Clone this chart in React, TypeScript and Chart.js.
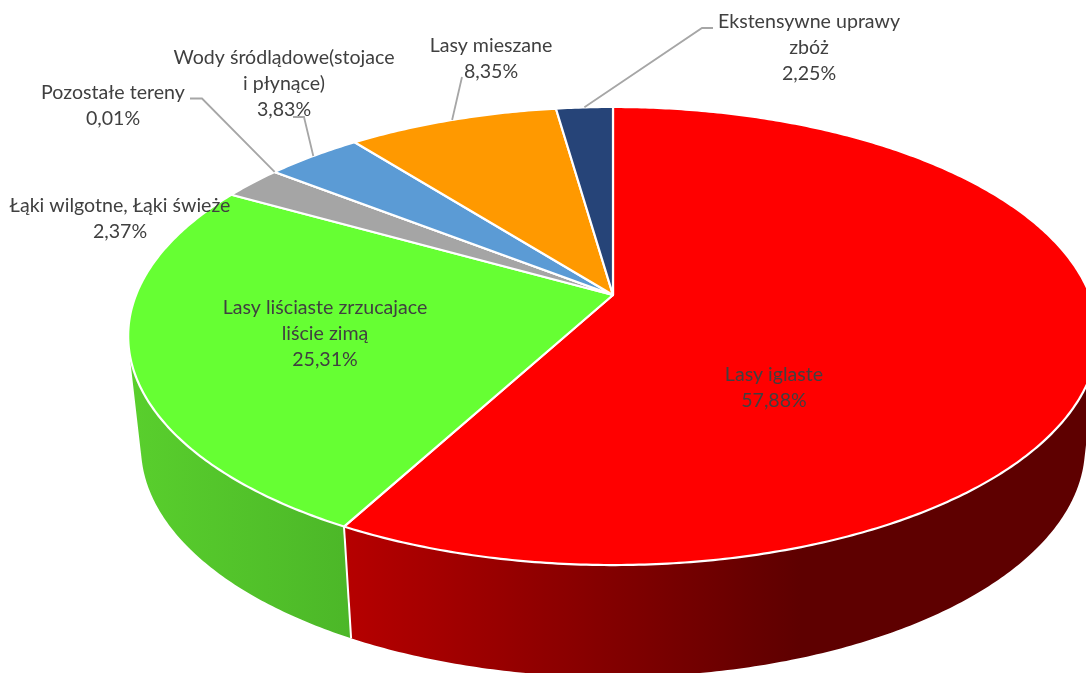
import React, { useEffect, useRef } from "react";
import { Chart, registerables } from "chart.js";

Chart.register(...registerables);

const categories = [
  "Lasy iglaste",
  "Lasy liściaste zrzucajace liście zimą",
  "Łąki wilgotne, Łąki świeże",
  "Pozostałe tereny",
  "Wody śródlądowe(stojace i płynące)",
  "Lasy mieszane",
  "Ekstensywne uprawy zbóż",
];
const shares = [57.88, 25.31, 2.37, 0.01, 3.83, 8.35, 2.25];
const topColors = ["#ff0000", "#66ff33", "#a5a5a5", "#ffc000", "#5b9bd5", "#ff9900", "#264478"];
const labelLines = [
  ["Lasy iglaste"],
  ["Lasy liściaste zrzucajace", "liście zimą"],
  ["Łąki wilgotne, Łąki świeże"],
  ["Pozostałe tereny"],
  ["Wody śródlądowe(stojace", "i płynące)"],
  ["Lasy mieszane"],
  ["Ekstensywne uprawy", "zbóż"],
];

// label layout: centre x, first-line centre y, elbow points of the leader line (if any)
const labelLayout: { x: number; y: number; leader?: [number, number][] }[] = [
  { x: 774, y: 375 },
  { x: 325, y: 308 },
  { x: 120, y: 206 },
  { x: 113, y: 93, leader: [[190, 98.5], [202, 98.5]] },
  { x: 284, y: 58, leader: [[293, 117], [304, 117]] },
  { x: 491, y: 46, leader: [[462, 77]] },
  { x: 809, y: 22, leader: [[713, 28], [702, 28]] },
];

// perspective model of the tilted disc
const K = 0.179;
const TOP = { cx: 613, cy: 295, rx: 477, ry: 221.7 };
const BOTTOM = { cx: 613, cy: 405.8, rx: 464.4, ry: 222.6 };
type Disc = typeof TOP;

const project = (d: Disc, t: number): [number, number] => {
  const u = Math.sin(t);
  const v = -Math.cos(t);
  const w = 1 - K * v;
  return [d.cx + (d.rx * u) / w, d.cy + (d.ry * v) / w];
};

const wallGradients: Record<number, [number, string, number, string]> = {
  0: [344, "#b60000", 800, "#5e0000"],
  1: [130, "#59cf2d", 350, "#4cb728"],
};

const App = () => {
  const ref = useRef<HTMLCanvasElement>(null);
  useEffect(() => {
    document.body.style.margin = "0";
    const plugin = {
      id: "tiltedPie",
      beforeDatasetDraw() {
        return false;
      },
      beforeDatasetsDraw(chart: any) {
        const ctx: CanvasRenderingContext2D = chart.ctx;
        const arcs = chart.getDatasetMeta(0).data;
        const thetas = arcs.map((a: any) => [a.startAngle + Math.PI / 2, a.endAngle + Math.PI / 2]);
        ctx.save();

        // side walls
        const wallMin = (60 * Math.PI) / 180;
        const wallMax = (300 * Math.PI) / 180;
        arcs.forEach((_: any, i: number) => {
          const g = wallGradients[i];
          if (!g) return;
          const a = Math.max(thetas[i][0], wallMin);
          const b = Math.min(thetas[i][1], wallMax);
          const grad = ctx.createLinearGradient(g[0], 0, g[2], 0);
          grad.addColorStop(0, g[1]);
          grad.addColorStop(1, g[3]);
          ctx.fillStyle = grad;
          ctx.beginPath();
          const n = Math.ceil((b - a) / 0.01);
          for (let s = 0; s < n; s++) {
            const t1 = a + ((b - a) * s) / n;
            const t2 = a + ((b - a) * (s + 1)) / n;
            const q = [project(TOP, t1), project(TOP, t2), project(BOTTOM, t2), project(BOTTOM, t1)];
            let area = 0;
            q.forEach((p, j) => {
              const r = q[(j + 1) % 4];
              area += p[0] * r[1] - r[0] * p[1];
            });
            if (area < 0) q.reverse();
            ctx.moveTo(q[0][0], q[0][1]);
            q.slice(1).forEach((p) => ctx.lineTo(p[0], p[1]));
            ctx.closePath();
          }
          ctx.fill();
        });

        // seam between the two visible walls
        const seam = thetas[0][1];
        const s1 = project(TOP, seam);
        const s2 = project(BOTTOM, seam);
        ctx.strokeStyle = "#ffffff";
        ctx.lineWidth = 2;
        ctx.beginPath();
        ctx.moveTo(s1[0], s1[1]);
        ctx.lineTo(s2[0], s2[1]);
        ctx.stroke();

        // top faces
        arcs.forEach((arc: any, i: number) => {
          const [a, b] = thetas[i];
          ctx.beginPath();
          ctx.moveTo(TOP.cx, TOP.cy);
          const n = Math.max(1, Math.ceil((b - a) / 0.01));
          for (let s = 0; s <= n; s++) {
            const p = project(TOP, a + ((b - a) * s) / n);
            ctx.lineTo(p[0], p[1]);
          }
          ctx.closePath();
          ctx.fillStyle = arc.options.backgroundColor;
          ctx.fill();
          ctx.strokeStyle = "#ffffff";
          ctx.lineWidth = 2.2;
          ctx.lineJoin = "round";
          ctx.stroke();
        });
        ctx.restore();
      },
      afterDraw(chart: any) {
        const ctx: CanvasRenderingContext2D = chart.ctx;
        const arcs = chart.getDatasetMeta(0).data;
        ctx.save();
        // leaders
        ctx.strokeStyle = "#a6a6a6";
        ctx.lineWidth = 1.8;
        labelLayout.forEach((l, i) => {
          if (!l.leader) return;
          const mid = (arcs[i].startAngle + arcs[i].endAngle) / 2 + Math.PI / 2;
          const end = project(TOP, mid);
          ctx.beginPath();
          l.leader.forEach((p, j) => (j ? ctx.lineTo(p[0], p[1]) : ctx.moveTo(p[0], p[1])));
          ctx.lineTo(end[0], end[1]);
          ctx.stroke();
        });
        // labels
        ctx.fillStyle = "#404040";
        ctx.font = '19.6px Lato, "Open Sans", sans-serif';
        ctx.textAlign = "center";
        ctx.textBaseline = "middle";
        labelLayout.forEach((l, i) => {
          const lines = [...labelLines[i], shares[i].toFixed(2).replace(".", ",") + "%"];
          lines.forEach((t, j) => ctx.fillText(t, l.x, l.y + j * 25.7));
        });
        ctx.restore();
      },
    };
    const chart = new Chart(ref.current!, {
      type: "pie",
      data: {
        labels: categories,
        datasets: [{ data: shares, backgroundColor: topColors, borderColor: "#ffffff" }],
      },
      options: {
        responsive: false,
        animation: false,
        plugins: { legend: { display: false }, tooltip: { enabled: false } },
      },
      plugins: [plugin],
    });
    return () => chart.destroy();
  }, []);
  return <canvas ref={ref} width={1086} height={673} style={{ display: "block" }} />;
};

export default App;
